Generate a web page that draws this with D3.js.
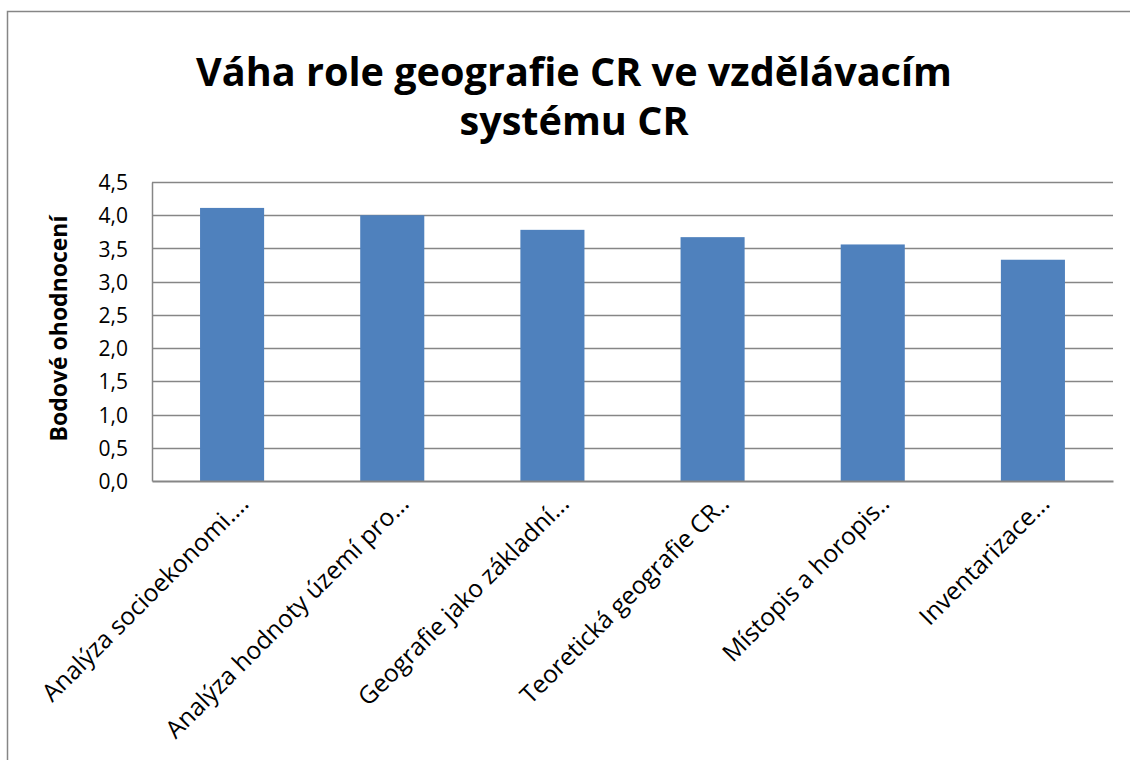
<!DOCTYPE html>
<html>
<head>
<meta charset="utf-8">
<script src="https://cdn.jsdelivr.net/npm/d3@7"></script>
<style>
  html, body { margin: 0; padding: 0; background: #fff; }
  svg { display: block; font-family: "Open Sans", Lato, sans-serif; font-variant-ligatures: none; }
</style>
</head>
<body>
<svg id="chart" width="1130" height="760"></svg>
<script>
// Category labels as shown (truncated) on the x axis
const categories = [
  "Analýza socioekonomi....",
  "Analýza hodnoty území pro...",
  "Geografie jako základní...",
  "Teoretická geografie CR..",
  "Místopis a horopis..",
  "Inventarizace..."
];
// Mean score per category
const scores = [4.11, 4.00, 3.78, 3.67, 3.56, 3.33];
// Y axis tick values
const yTicks = [0, 0.5, 1.0, 1.5, 2.0, 2.5, 3.0, 3.5, 4.0, 4.5];
const titleLines = ["Váha role geografie CR ve vzdělávacím", "systému CR"];
const yAxisTitle = "Bodové ohodnocení";

const svg = d3.select("#chart");
const W = 1130, H = 760;
const plot = { left: 152, right: 1113, top: 182, bottom: 481 };
const gridColor = "#868686";
const barColor = "#4F81BD";

// scale a text's font size so it spans the given width
function fitWidth(sel, width) {
  sel.each(function () {
    const el = d3.select(this);
    const fs = parseFloat(el.attr("font-size"));
    const len = this.getComputedTextLength();
    el.attr("font-size", (fs * width / len).toFixed(2));
  });
}

// outer chart frame
svg.append("rect")
  .attr("x", 7.5).attr("y", 11.5)
  .attr("width", W + 10).attr("height", H + 10)
  .attr("fill", "#fff").attr("stroke", gridColor).attr("stroke-width", 1.5);

const x = d3.scaleBand().domain(categories).range([plot.left, plot.right]).paddingInner(0.6).paddingOuter(0.3);
const y = d3.scaleLinear().domain([0, 4.5]).range([plot.bottom, plot.top]);

// horizontal gridlines
svg.append("g").selectAll("line").data(yTicks.filter(d => d > 0)).join("line")
  .attr("x1", plot.left).attr("x2", plot.right)
  .attr("y1", d => Math.round(y(d)) + 0.5).attr("y2", d => Math.round(y(d)) + 0.5)
  .attr("stroke", gridColor).attr("stroke-width", 1.5);

// bars
svg.append("g").selectAll("rect").data(scores).join("rect")
  .attr("x", (d, i) => x(categories[i]))
  .attr("width", x.bandwidth())
  .attr("y", d => y(d))
  .attr("height", d => y(0) - y(d))
  .attr("fill", barColor);

// y axis
const yAxis = d3.axisLeft(y).tickValues(yTicks).tickSize(0).tickPadding(24)
  .tickFormat(d => d3.format(".1f")(d).replace(".", ","));
const gy = svg.append("g").attr("transform", `translate(${plot.left},0)`).call(yAxis);
gy.select(".domain").attr("stroke", gridColor).attr("stroke-width", 1.5);
gy.selectAll("text").attr("font-size", 21).attr("fill", "#000")
  .attr("font-family", "'Open Sans', sans-serif").attr("dy", "0.36em");

// x axis line
const xAxis = d3.axisBottom(x).tickSize(0).tickFormat("");
const gx = svg.append("g").attr("transform", `translate(0,${plot.bottom})`).call(xAxis);
gx.select(".domain").attr("stroke", gridColor).attr("stroke-width", 2);

// rotated category labels
const labels = svg.append("g").selectAll("text").data(categories).join("text")
  .attr("transform", d => `translate(${x(d) + x.bandwidth() / 2 + 12},${plot.bottom + 18}) rotate(-45)`)
  .attr("text-anchor", "end")
  .attr("dy", "0.35em")
  .attr("font-size", 20)
  .attr("fill", "#000")
  .text(d => d);
{
  const first = labels.nodes()[0];
  const fs = 20 * 280 / first.getComputedTextLength();
  labels.attr("font-size", fs.toFixed(2));
}

// y axis title
svg.append("text")
  .attr("transform", `translate(67,${(plot.top + plot.bottom) / 2 - 3}) rotate(-90)`)
  .attr("text-anchor", "middle")
  .attr("font-size", 19).attr("font-weight", "bold")
  .text(yAxisTitle)
  .call(fitWidth, 226);

// chart title
const title = svg.append("g").selectAll("text").data(titleLines).join("text")
  .attr("x", 574).attr("y", (d, i) => 86 + i * 49)
  .attr("text-anchor", "middle")
  .attr("font-size", 42).attr("font-weight", "bold")
  .text(d => d);
{
  const first = title.nodes()[0];
  const fs = 42 * 756 / first.getComputedTextLength();
  title.attr("font-size", fs.toFixed(2));
}
</script>
</body>
</html>
